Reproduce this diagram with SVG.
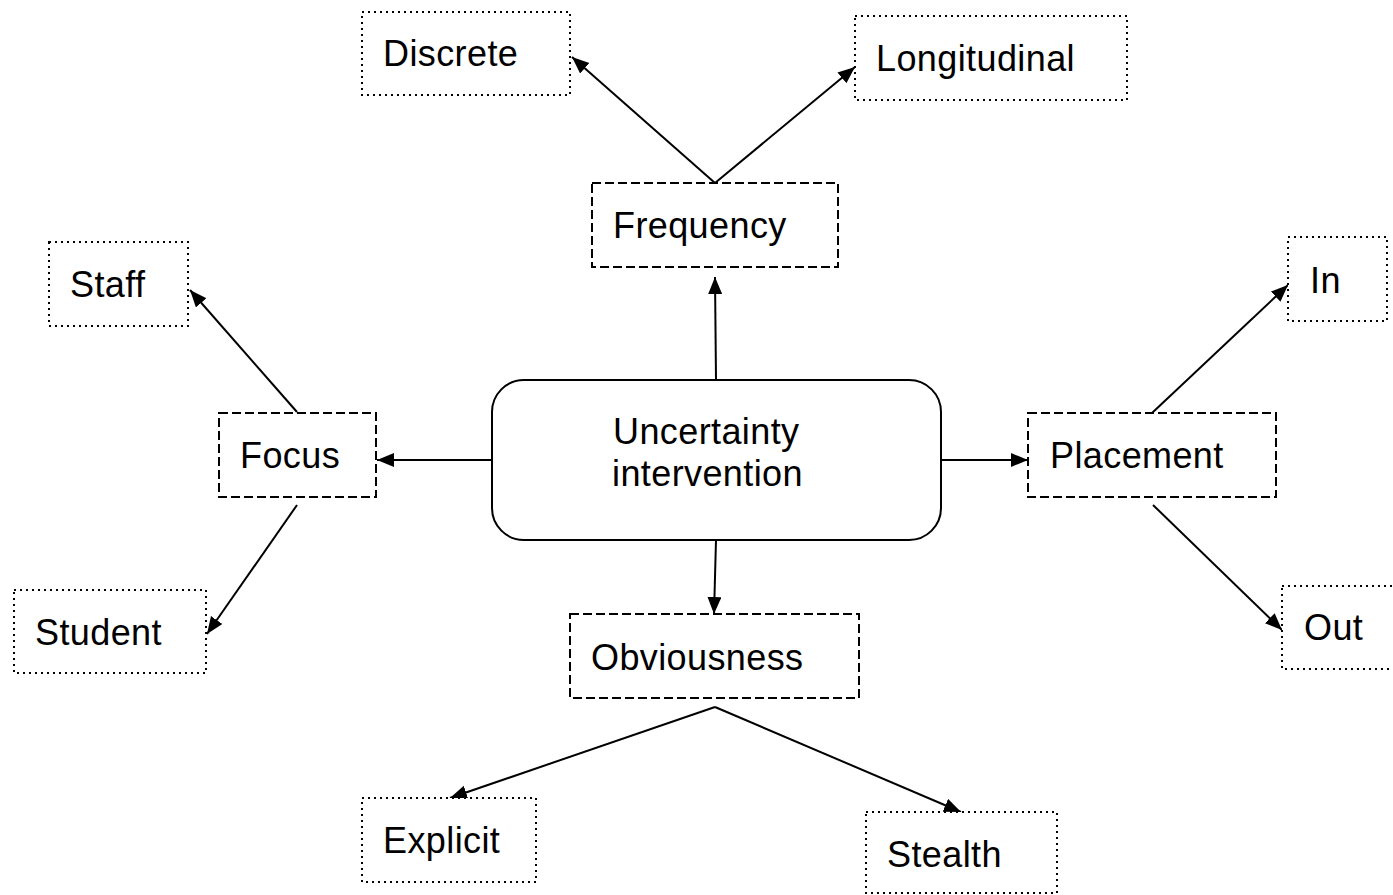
<svg xmlns="http://www.w3.org/2000/svg" width="1393" height="895" viewBox="0 0 1393 895">
<style>
.t{font-family:"Liberation Sans",Arial,sans-serif;font-size:36px;letter-spacing:0.4px;fill:#000}
.dot{fill:#fff;stroke:#000;stroke-width:2;stroke-dasharray:2 4}
.dash{fill:#fff;stroke:#000;stroke-width:2;stroke-dasharray:9 4}
.c{fill:none;stroke:#000;stroke-width:2;marker-end:url(#ah)}
</style>
<defs>
<marker id="ah" markerUnits="userSpaceOnUse" markerWidth="20" markerHeight="16" refX="17" refY="7" orient="auto">
<path d="M0,0 L17,7 L0,14 z" fill="#000"/>
</marker>
</defs>
<rect width="1393" height="895" fill="#fff"/>
<g id="connectors">
<line class="c" x1="716" y1="380" x2="715" y2="277"/>
<line class="c" x1="492" y1="460" x2="377" y2="460"/>
<line class="c" x1="941" y1="460" x2="1028" y2="460"/>
<line class="c" x1="716" y1="540" x2="714" y2="614"/>
<line class="c" x1="715" y1="183" x2="572" y2="57"/>
<line class="c" x1="715" y1="183" x2="855" y2="67"/>
<line class="c" x1="297" y1="412" x2="190" y2="290"/>
<line class="c" x1="297" y1="505" x2="207" y2="634"/>
<line class="c" x1="1152" y1="413" x2="1288" y2="285"/>
<line class="c" x1="1153" y1="505" x2="1282" y2="630"/>
<line class="c" x1="715" y1="707" x2="450" y2="798"/>
<line class="c" x1="715" y1="707" x2="961" y2="812"/>
</g>
<g id="center">
<rect x="492" y="380" width="449" height="160" rx="32" ry="32" fill="#fff" stroke="#000" stroke-width="2"/>
<text class="t" x="613" y="444">Uncertainty</text>
<text class="t" x="612" y="486">intervention</text>
</g>
<g id="frequency"><rect class="dash" x="592" y="183" width="246" height="84"/><text class="t" x="613" y="238">Frequency</text></g>
<g id="focus"><rect class="dash" x="219" y="413" width="157" height="84"/><text class="t" x="240" y="468">Focus</text></g>
<g id="placement"><rect class="dash" x="1028" y="413" width="248" height="84"/><text class="t" x="1050" y="468">Placement</text></g>
<g id="obviousness"><rect class="dash" x="570" y="614" width="289" height="84"/><text class="t" x="591" y="670">Obviousness</text></g>
<g id="discrete"><rect class="dot" x="362" y="12" width="208" height="83"/><text class="t" x="383" y="66">Discrete</text></g>
<g id="longitudinal"><rect class="dot" x="855" y="16" width="272" height="84"/><text class="t" x="876" y="71">Longitudinal</text></g>
<g id="staff"><rect class="dot" x="49" y="242" width="139" height="84"/><text class="t" x="70" y="297">Staff</text></g>
<g id="student"><rect class="dot" x="14" y="590" width="192" height="83"/><text class="t" x="35" y="645">Student</text></g>
<g id="in"><rect class="dot" x="1288" y="237" width="99" height="84"/><text class="t" x="1310" y="293">In</text></g>
<g id="out"><rect class="dot" x="1282" y="586" width="120" height="83"/><text class="t" x="1304" y="640">Out</text></g>
<g id="explicit"><rect class="dot" x="362" y="798" width="174" height="84"/><text class="t" x="383" y="853">Explicit</text></g>
<g id="stealth"><rect class="dot" x="866" y="812" width="191" height="81"/><text class="t" x="887" y="867">Stealth</text></g>
</svg>
